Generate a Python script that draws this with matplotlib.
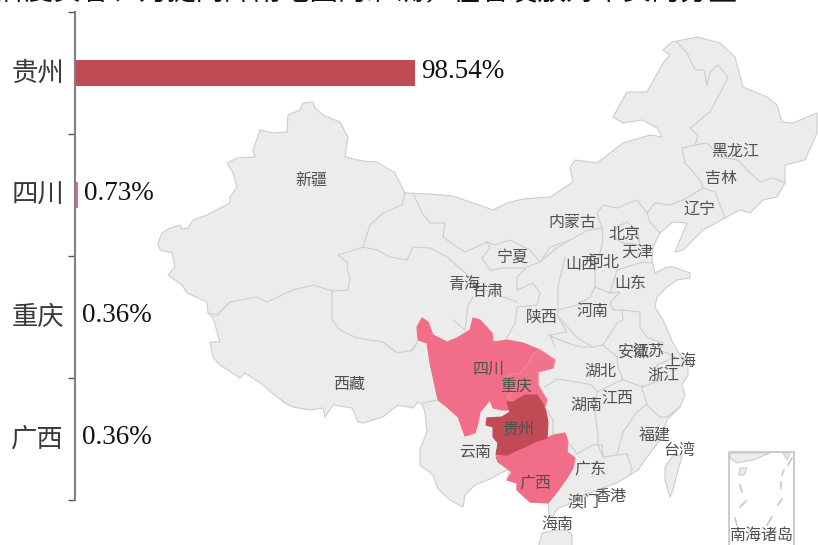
import matplotlib
matplotlib.use('Agg')
import matplotlib.pyplot as plt
from matplotlib.patches import Polygon, Rectangle

plt.rcParams['font.family'] = ['Noto Sans CJK SC', 'DejaVu Sans']

# bar data
categories = ['贵州', '四川', '重庆', '广西']
shares = [98.54, 0.73, 0.36, 0.36]
bar_colors = ['#C14A55', '#EE6A84', '#EE8A9C', '#EE8A9C']

title = '牌度贵客、为提问降雨地图的准确，在省发放对个资的分量'

# map labels: name, x, y in picture pixels
map_names = ['新疆', '西藏', '青海', '甘肃', '宁夏', '内蒙古', '北京', '天津', '山西', '河北',
             '山东', '河南', '陕西', '四川', '重庆', '贵州', '云南', '广西', '广东', '湖南',
             '湖北', '江西', '安徽', '江苏', '上海', '浙江', '福建', '台湾', '香港', '澳门',
             '海南', '南海诸岛', '辽宁', '吉林', '黑龙江']
map_x = [311, 349, 464, 487, 513, 572, 624, 637, 581, 604, 630, 593, 542, 489, 516, 518, 475,
         535, 590, 586, 600, 617, 634, 648, 680, 663, 655, 679, 610, 583, 557, 761, 699, 721, 735]
map_y = [180, 384, 284, 291, 257, 223, 235, 252, 265, 263, 283, 311, 317, 369, 386, 429, 452,
         483, 469, 405, 371, 398, 353, 351, 361, 375, 436, 451, 496, 503, 524, 535, 209, 179, 151]

# map outlines traced in picture pixels
china = [(158, 243), (162, 233), (170, 228), (180, 225), (182, 229), (188, 228), (193, 220), (207, 215),
         (230, 203), (230, 197), (237, 187), (233, 173), (227, 163), (237, 158), (255, 157), (253, 150),
         (260, 130), (273, 133), (287, 132), (288, 115), (300, 110), (303, 103), (313, 102), (315, 108),
         (323, 115), (340, 122), (348, 137), (345, 157), (363, 161), (377, 162), (395, 173), (405, 193),
         (430, 194), (453, 196), (473, 203), (493, 210), (507, 203), (523, 199), (550, 197), (573, 182),
         (570, 168), (575, 160), (597, 163), (623, 143), (650, 135), (662, 137), (657, 128), (643, 120),
         (623, 123), (613, 117), (627, 92), (647, 92), (663, 63), (670, 55), (663, 50), (672, 42),
         (697, 37), (720, 43), (735, 57), (743, 87), (767, 97), (777, 105), (782, 122), (793, 123),
         (817, 113), (817, 133), (805, 160), (785, 165), (785, 183), (777, 197), (763, 200), (750, 213),
         (740, 210), (725, 218), (703, 230), (683, 250), (675, 252), (687, 223), (673, 222), (660, 233),
         (653, 247), (652, 260), (655, 273), (667, 267), (673, 267), (690, 273), (690, 278), (677, 280),
         (667, 287), (657, 297), (655, 307), (663, 320), (673, 343), (680, 355), (688, 362), (688, 375),
         (682, 385), (685, 395), (680, 407), (667, 420), (660, 440), (650, 453), (638, 470), (617, 483),
         (597, 490), (580, 497), (567, 505), (558, 508), (552, 518), (549, 514), (548, 503), (530, 502),
         (517, 490), (517, 483), (507, 480), (510, 469), (503, 472), (490, 479), (475, 485), (465, 495),
         (463, 507), (450, 500), (438, 489), (433, 475), (420, 465), (420, 449), (427, 432), (425, 412),
         (422, 404), (418, 402), (413, 408), (398, 405), (383, 417), (363, 423), (358, 422), (352, 408),
         (333, 405), (325, 417), (323, 408), (310, 410), (293, 407), (285, 403), (272, 393), (263, 385),
         (245, 373), (240, 378), (220, 365), (213, 357), (210, 342), (220, 342), (213, 318), (208, 313),
         (207, 302), (187, 293), (182, 285), (168, 275), (175, 267), (172, 253), (160, 250)]
taiwan = [(675, 453), (682, 457), (678, 470), (673, 490), (670, 497), (665, 480), (665, 467)]
hainan = [(538, 548), (542, 533), (557, 530), (567, 530), (572, 534), (572, 548)]

sichuan = [(417, 327), (422, 318), (428, 322), (433, 335), (447, 342), (457, 338), (470, 330), (473, 318),
           (480, 320), (492, 333), (493, 342), (507, 340), (523, 343), (540, 350), (555, 360), (553, 368),
           (538, 372), (538, 385), (547, 400), (545, 407), (510, 410), (502, 410), (493, 408), (490, 400),
           (480, 412), (478, 423), (475, 433), (465, 436), (458, 417), (447, 407), (438, 400), (430, 363),
           (427, 343), (418, 340)]
chongqing = [(555, 360), (553, 368), (538, 372), (538, 385), (547, 400), (545, 407), (537, 395), (525, 395),
             (513, 402), (507, 398), (513, 390), (507, 375), (520, 373), (527, 365), (535, 352), (540, 350)]
guizhou = [(507, 402), (513, 402), (525, 395), (537, 395), (545, 407), (547, 417), (548, 423), (547, 438),
           (535, 442), (525, 447), (517, 450), (507, 455), (496, 455), (498, 443), (493, 437), (493, 427),
           (486, 425), (487, 418), (502, 417), (510, 412)]
guangxi = [(496, 457), (507, 455), (525, 447), (547, 438), (553, 435), (565, 433), (568, 442), (567, 452),
           (575, 458), (573, 468), (567, 478), (557, 492), (548, 503), (530, 502), (517, 490), (517, 483),
           (507, 480), (512, 472), (498, 462)]

borders = [
    [(208, 313), (217, 315), (230, 302), (257, 297), (267, 302), (293, 290), (313, 285), (332, 291)],
    [(332, 291), (348, 290), (350, 277), (347, 270), (348, 263), (338, 255), (363, 247)],
    [(363, 247), (370, 225), (383, 213), (402, 205), (405, 193)],
    [(363, 247), (377, 250), (390, 257), (407, 260), (413, 247), (430, 248), (447, 257), (470, 277),
     (477, 287), (503, 297), (517, 302)],
    [(332, 291), (332, 320), (340, 330), (357, 338), (383, 342), (397, 353), (413, 350), (417, 342)],
    [(453, 320), (465, 330), (468, 305), (473, 297)],
    [(413, 193), (422, 213), (430, 223), (445, 223), (443, 237), (457, 247), (465, 252), (487, 242),
     (490, 248), (482, 258), (490, 270), (503, 268), (525, 268)],
    [(487, 242), (495, 245), (510, 240), (530, 250), (540, 262), (527, 267), (517, 277), (517, 290),
     (533, 283), (540, 293), (537, 305), (517, 307), (515, 323), (507, 338)],
    [(567, 242), (558, 247), (540, 262)],
    [(565, 257), (558, 287), (558, 317), (567, 332), (550, 335), (555, 347)],
    [(540, 262), (550, 247), (570, 240), (588, 230), (602, 228), (597, 213), (603, 205), (617, 208),
     (637, 200), (647, 213), (655, 203), (670, 205), (683, 200), (703, 188)],
    [(647, 213), (650, 222), (660, 233)],
    [(703, 187), (700, 180), (685, 163), (682, 148), (695, 145), (698, 135), (690, 128), (710, 112),
     (720, 93), (728, 77), (718, 65), (710, 72), (707, 85), (704, 70), (695, 70), (687, 53), (677, 42)],
    [(695, 145), (707, 143), (720, 157), (738, 160), (747, 170), (760, 182), (773, 178), (785, 183)],
    [(703, 188), (715, 192), (725, 218)],
    [(602, 228), (603, 240), (600, 253), (595, 267), (595, 287), (610, 293)],
    [(558, 310), (577, 305), (590, 297), (595, 287)],
    [(610, 293), (617, 270), (643, 262), (652, 263)],
    [(617, 227), (627, 222), (637, 230), (640, 245), (623, 243), (613, 237), (617, 227)],
    [(610, 293), (620, 292), (610, 303), (613, 310), (622, 310), (623, 320), (617, 323), (608, 337)],
    [(560, 318), (577, 338), (593, 347), (603, 345), (608, 337)],
    [(622, 310), (640, 312), (640, 328), (648, 338), (663, 343), (660, 350), (675, 357)],
    [(603, 345), (617, 357), (618, 367), (623, 380), (643, 387), (660, 380), (657, 365), (675, 357)],
    [(548, 335), (565, 342), (580, 347), (593, 347)],
    [(545, 387), (557, 379), (577, 382), (592, 385), (597, 392), (617, 382), (623, 380)],
    [(597, 392), (595, 412), (598, 435), (598, 445), (603, 457)],
    [(568, 442), (577, 454), (593, 445), (602, 445), (603, 457), (617, 455), (627, 454), (632, 469),
     (630, 474)],
    [(617, 454), (623, 432), (637, 412), (647, 404), (642, 389), (643, 385)],
    [(647, 405), (660, 417), (667, 417), (680, 407)],
    [(545, 407), (553, 420), (553, 435)],
    [(423, 403), (438, 400)],
    [(417, 343), (410, 352)],
]

# south china sea inset
sea_land = [[(730, 453), (770, 453), (753, 460), (737, 463), (730, 458)],
            [(783, 453), (790, 453), (787, 460)],
            [(740, 468), (747, 468), (744, 475), (739, 475)]]
sea_dashes = [[(792, 458), (788, 465)], [(784, 470), (782, 475)], [(781, 482), (781, 488)],
              [(782, 499), (778, 505)], [(772, 517), (767, 525)], [(746, 501), (740, 507)],
              [(735, 518), (737, 525)], [(740, 485), (742, 492)]]

land = '#ECECEC'
edge = '#CDCDCD'

fig = plt.figure(figsize=(8.18, 5.45), dpi=100)

# whole picture in pixels, for the map
ax_map = fig.add_axes([0, 0, 1, 1])
ax_map.set_xlim(0, 818)
ax_map.set_ylim(545, 0)
ax_map.axis('off')

ax_map.add_patch(Polygon(china, fc=land, ec=edge, lw=0.8, joinstyle='round'))
ax_map.add_patch(Polygon(taiwan, fc=land, ec=edge, lw=0.8, joinstyle='round'))
ax_map.add_patch(Polygon(hainan, fc=land, ec=edge, lw=0.8, joinstyle='round'))
for line in borders:
    ax_map.plot([p[0] for p in line], [p[1] for p in line], color=edge, lw=0.8,
                solid_joinstyle='round')

ax_map.add_patch(Polygon(sichuan, fc='#F26E88', ec='#F26E88', lw=0.8, joinstyle='round'))
ax_map.add_patch(Polygon(chongqing, fc='#F2728B', ec='#F0899C', lw=0.7, joinstyle='round'))
ax_map.add_patch(Polygon(guangxi, fc='#F26E88', ec='#F26E88', lw=0.8, joinstyle='round'))
ax_map.add_patch(Polygon(guizhou, fc='#C14A55', ec='#C14A55', lw=0.8, joinstyle='round'))

ax_map.add_patch(Rectangle((729, 452), 65, 96, fc='none', ec='#C4C4C4', lw=1.2))
for shape in sea_land:
    ax_map.add_patch(Polygon(shape, fc=land, ec=edge, lw=0.8))
for dash in sea_dashes:
    ax_map.plot([p[0] for p in dash], [p[1] for p in dash], color='#C8C8C8', lw=1.2)

for name, x, y in zip(map_names, map_x, map_y):
    ax_map.text(x, y, name, fontsize=11.5, color='#505050', ha='center', va='center')

ax_map.text(367, -8, title, fontsize=20.5, color='#111111', ha='center', va='center')

# bars on their own axes
ax = fig.add_axes([75 / 818, 1 - 500 / 545, 345 / 818, 488 / 545])
ax.patch.set_alpha(0)
positions = list(range(len(categories)))
ax.barh(positions, shares, height=0.213, color=bar_colors)
ax.set_xlim(0, 100)
ax.set_ylim(3.5, -0.5)
ax.xaxis.set_visible(False)
for side in ['top', 'right', 'bottom']:
    ax.spines[side].set_visible(False)
ax.spines['left'].set_color('#808080')
ax.spines['left'].set_linewidth(1.5)
ax.set_yticks([-0.5, 0.5, 1.5, 2.5, 3.5])
ax.set_yticklabels([])
ax.tick_params(axis='y', which='major', length=5, width=1, color='#555555')
ax.set_yticks(positions, minor=True)
ax.set_yticklabels(categories, minor=True, fontsize=19, color='#3A3A3A',
                   va='center', position=(0, 0.003))
ax.tick_params(axis='y', which='minor', length=0, pad=8)

for pos, val in zip(positions, shares):
    ax.annotate(f'{val:.2f}%', (val, pos), xytext=(4.5, 1), textcoords='offset points',
                ha='left', va='center', fontsize=19.5, color='#111111', family='Liberation Serif',
                annotation_clip=False)

plt.savefig('out.png', dpi=100)
